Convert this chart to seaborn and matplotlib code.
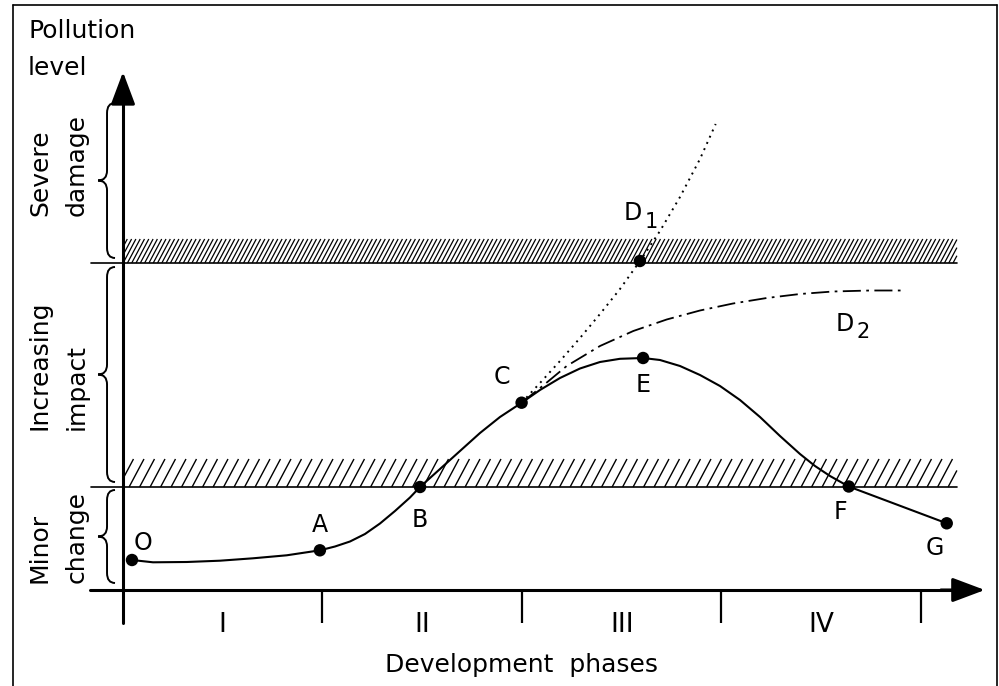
import numpy as np
import matplotlib
matplotlib.use("Agg")
import matplotlib.pyplot as plt
import seaborn as sns
from matplotlib.path import Path
from matplotlib.patches import PathPatch
from matplotlib.collections import LineCollection
from matplotlib.lines import Line2D

# ---------------- data (x: development phase units, y: pollution level units) -------------
phase_labels = ["I", "II", "III", "IV"]
phase_bounds = [0, 1, 2, 3, 4]

main_x = [0.0451, 0.1504, 0.3193, 0.4862, 0.6516, 0.8206, 0.9875,
          1.0627, 1.1378, 1.2130, 1.2882, 1.3634, 1.4386, 1.4887,
          1.5890, 1.6892, 1.7895, 1.8897, 1.9985,
          2.0902, 2.1905, 2.2907, 2.3910, 2.4912, 2.6065,
          2.6917, 2.7920, 2.8922, 2.9925, 3.0927, 3.1930, 3.2932, 3.3935,
          3.4687, 3.5439, 3.6376, 4.1288]
main_y = [0.300, 0.277, 0.280, 0.293, 0.317, 0.347, 0.397,
          0.435, 0.485, 0.560, 0.665, 0.790, 0.925, 1.030,
          1.210, 1.390, 1.570, 1.730, 1.873,
          2.000, 2.120, 2.215, 2.280, 2.312, 2.320,
          2.300, 2.240, 2.150, 2.040, 1.900, 1.730, 1.540, 1.360,
          1.240, 1.140, 1.035, 0.667]

d1_x = [1.9985, 2.0902, 2.1905, 2.2907, 2.3910, 2.4912, 2.5915, 2.6917, 2.7920, 2.8922, 2.9709]
d1_y = [1.873, 2.070, 2.290, 2.520, 2.760, 3.010, 3.290, 3.590, 3.930, 4.310, 4.660]

d2_x = [1.9985, 2.1153, 2.2241, 2.3910, 2.5579, 2.7253, 2.8922, 3.0576, 3.2266,
        3.3935, 3.5589, 3.7444, 3.9098]
d2_y = [1.873, 2.060, 2.240, 2.440, 2.590, 2.705, 2.795, 2.865, 2.920,
        2.960, 2.985, 2.995, 2.995]

point_names = ["O", "A", "B", "C", "E", "F", "G", "D1"]
point_x = [0.045, 0.987, 1.489, 1.998, 2.607, 3.638, 4.129, 2.591]
point_y = [0.300, 0.397, 1.030, 1.873, 2.320, 1.035, 0.667, 3.290]

label_names = ["O", "A", "B", "C", "E", "F", "G"]
label_x = [0.100, 0.987, 1.489, 1.898, 2.607, 3.594, 4.068]
label_y = [0.470, 0.650, 0.700, 2.133, 2.050, 0.783, 0.420]

thresholds = [1.03, 3.27]
band_tops = [1.31, 3.51]
band_end = 4.18

zone_words = [("Minor", "change"), ("Increasing", "impact"), ("Severe", "damage")]
zone_low = [0.07, 1.08, 3.32]
zone_high = [1.00, 3.23, 4.87]

# ---------------- figure -------------
sns.set_theme(style="white")
plt.rcParams['font.family'] = ['DejaVu Sans']
plt.rcParams['text.color'] = 'black'

fig = plt.figure(figsize=(9.99, 6.86), dpi=100)
ax = fig.add_axes([0, 0, 1, 1])
ax.set_xlim(-0.6165, 4.391)
ax.set_ylim(-0.96, 5.90)
ax.axis('off')

p0 = ax.transData.transform((0, 0))
p1 = ax.transData.transform((1, 1))
px_x = p1[0] - p0[0]
px_y = p1[1] - p0[1]


def hatch_band(x0, x1, y0, y1, spacing_px, angle_deg, lw):
    h_px = (y1 - y0) * px_y
    d = h_px / np.tan(np.radians(angle_deg)) / px_x
    sp = spacing_px / px_x
    segs = []
    for xb in np.arange(x0 - d - sp, x1 + sp, sp):
        t0 = max(0.0, (x0 - xb) / d)
        t1 = min(1.0, (x1 - xb) / d)
        if t0 < t1:
            segs.append([(xb + t0 * d, y0 + t0 * (y1 - y0)),
                         (xb + t1 * d, y0 + t1 * (y1 - y0))])
    ax.add_collection(LineCollection(segs, colors='black', linewidths=lw, zorder=1))


# hatched threshold bands
hatch_band(0, band_end, thresholds[0], band_tops[0], 10.5, 62, 1.0)
hatch_band(0, band_end, thresholds[1], band_tops[1], 4.3, 62, 0.9)
for t in thresholds:
    ax.plot([-0.16, band_end], [t, t], color='black', lw=1.2, zorder=2)

# axes with arrows
ax.plot([-0.165, 4.15], [0, 0], color='black', lw=2.2, zorder=3)
ax.annotate("", xy=(4.32, 0), xytext=(4.10, 0),
            arrowprops=dict(arrowstyle="-|>,head_length=2.0,head_width=0.75",
                            lw=2.2, color='black', shrinkA=0, shrinkB=0, mutation_scale=10),
            zorder=3)
ax.plot([0, 0], [-0.33, 5.0], color='black', lw=2.2, zorder=3)
ax.annotate("", xy=(0, 5.18), xytext=(0, 4.9),
            arrowprops=dict(arrowstyle="-|>,head_length=2.0,head_width=0.75",
                            lw=2.2, color='black', shrinkA=0, shrinkB=0, mutation_scale=10),
            zorder=3)
ax.vlines(phase_bounds[1:], -0.33, 0, color='black', lw=1.6, zorder=3)

for i, lab in enumerate(phase_labels):
    ax.text((phase_bounds[i] + phase_bounds[i + 1]) / 2, -0.35, lab,
            ha='center', va='center', fontsize=19)
ax.text(2.0, -0.75, "Development  phases", ha='center', va='center', fontsize=18)

# curves
sns.lineplot(x=main_x, y=main_y, sort=False, estimator=None, color='black', lw=1.5,
             ax=ax, zorder=4)
sns.lineplot(x=d1_x, y=d1_y, sort=False, estimator=None, color='black', lw=1.4,
             linestyle=(0, (1, 2.5)), ax=ax, zorder=4)
sns.lineplot(x=d2_x, y=d2_y, sort=False, estimator=None, color='black', lw=1.3,
             linestyle=(0, (10, 3, 1.5, 3)), ax=ax, zorder=4)
sns.scatterplot(x=point_x, y=point_y, color='black', s=80, edgecolor='none',
                ax=ax, zorder=5, legend=False)

for n, x, y in zip(label_names, label_x, label_y):
    ax.text(x, y, n, ha='center', va='center', fontsize=17)
ax.text(2.555, 3.773, "D", ha='center', va='center', fontsize=17)
ax.text(2.650, 3.680, "1", ha='center', va='center', fontsize=15)
ax.text(3.619, 2.660, "D", ha='center', va='center', fontsize=17)
ax.text(3.709, 2.575, "2", ha='center', va='center', fontsize=15)

# braces
xe, xs, xc = -0.040, -0.080, -0.125
r = 0.10
for lo, hi in zip(zone_low, zone_high):
    ym = (lo + hi) / 2
    verts = [(xe, hi), (xs, hi), (xs, hi - r),
             (xs, ym + r),
             (xs, ym), (xc, ym),
             (xs, ym), (xs, ym - r),
             (xs, lo + r),
             (xs, lo), (xe, lo)]
    codes = [Path.MOVETO, Path.CURVE3, Path.CURVE3,
             Path.LINETO,
             Path.CURVE3, Path.CURVE3,
             Path.CURVE3, Path.CURVE3,
             Path.LINETO,
             Path.CURVE3, Path.CURVE3]
    ax.add_patch(PathPatch(Path(verts, codes), fill=False, lw=1.4, color='black'))

zone_text_start = [0.07, 1.60, 3.74]
for (w1, w2), ys in zip(zone_words, zone_text_start):
    ax.text(-0.381, ys, w1, rotation=90, rotation_mode='anchor', ha='left',
            va='baseline', fontsize=18)
    ax.text(-0.195, ys, w2, rotation=90, rotation_mode='anchor', ha='left',
            va='baseline', fontsize=18)

ax.text(-0.476, 5.52, "Pollution", ha='left', va='baseline', fontsize=18)
ax.text(-0.476, 5.15, "level", ha='left', va='baseline', fontsize=18)

# outer frame
for xs_, ys_ in [([0.013, 0.013], [0.0, 0.9927]),
                 ([0.013, 0.998], [0.9927, 0.9927]),
                 ([0.998, 0.998], [0.0, 0.9927])]:
    fig.add_artist(Line2D(xs_, ys_, transform=fig.transFigure, color='black', lw=1.2))

fig.savefig("out.png", dpi=100)
